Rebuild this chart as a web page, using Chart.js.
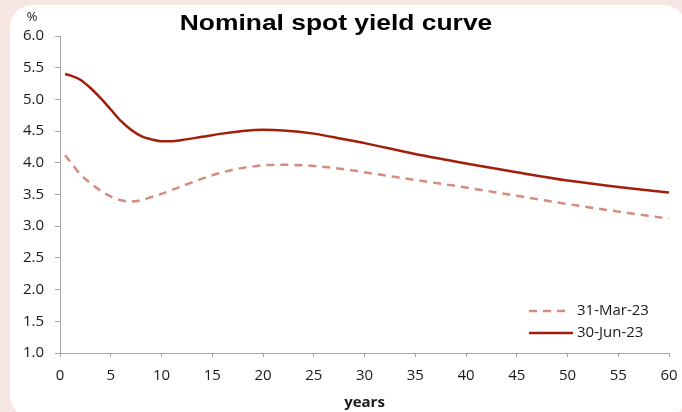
<!DOCTYPE html>
<html>
<head>
<meta charset="utf-8">
<script src="https://cdn.jsdelivr.net/npm/chart.js@4"></script>
<style>
  html, body { margin: 0; padding: 0; }
  body { width: 682px; height: 412px; background: #f6e7e5; overflow: hidden; position: relative; }
  .panel { position: absolute; left: 10px; top: 5px; width: 676px; height: 412px; background: #fff; border-radius: 22px; }
  .box { position: absolute; left: 0; top: 0; width: 682px; height: 412px; }
</style>
</head>
<body>
<div class="panel"></div>
<div class="box"><canvas id="chart" width="682" height="412"></canvas></div>
<script>
// maturities in years
const years = [0.5, 1, 2, 3, 4, 5, 6, 7, 8, 9, 10, 11, 12, 14, 16, 18, 20, 22, 25, 28, 30, 35, 40, 45, 50, 55, 60];
// 31-Mar-23 curve (%)
const mar23 = [4.12, 4.02, 3.82, 3.68, 3.56, 3.47, 3.41, 3.39, 3.41, 3.46, 3.51, 3.57, 3.63, 3.75, 3.85, 3.92, 3.96, 3.97, 3.95, 3.90, 3.85, 3.73, 3.61, 3.48, 3.35, 3.23, 3.12];
// 30-Jun-23 curve (%)
const jun23 = [5.40, 5.38, 5.31, 5.18, 5.02, 4.84, 4.66, 4.52, 4.42, 4.37, 4.34, 4.34, 4.36, 4.41, 4.46, 4.50, 4.52, 4.51, 4.46, 4.37, 4.31, 4.14, 3.99, 3.85, 3.72, 3.62, 3.53];
const seriesLabels = ["31-Mar-23", "30-Jun-23"];

const FONT = "'Open Sans', 'DejaVu Sans', sans-serif";
const textColor = "#1a1a1a";
const axisColor = "#a6a6a6";

const toPoints = (vals) => vals.map((v, i) => ({ x: years[i], y: v }));

// title, % label and the in-chart legend
const decor = {
  id: "decor",
  afterDraw(chart) {
    const { ctx } = chart;
    ctx.save();
    ctx.fillStyle = "#000";
    ctx.font = "bold 22px 'Liberation Sans', Arial, sans-serif";
    ctx.textAlign = "center";
    ctx.textBaseline = "middle";
    // title looks horizontally stretched in the original
    ctx.save();
    ctx.translate(336, 24);
    ctx.scale(1.2, 1);
    ctx.fillText("Nominal spot yield curve", 0, 0);
    ctx.restore();

    ctx.font = "13px " + FONT;
    ctx.fillStyle = textColor;
    ctx.fillText("%", 32, 17);

    // legend
    ctx.font = "15px " + FONT;
    ctx.textAlign = "left";
    chart.data.datasets.forEach((ds, i) => {
      const y = 311 + i * 22;
      ctx.strokeStyle = ds.borderColor;
      ctx.lineWidth = ds.borderWidth;
      ctx.setLineDash(ds.borderDash || []);
      ctx.beginPath();
      ctx.moveTo(529, y);
      ctx.lineTo(ds.borderDash ? 566 : 573, y);
      ctx.stroke();
      ctx.setLineDash([]);
      ctx.fillStyle = textColor;
      ctx.fillText(ds.label, 577, y);
    });
    ctx.restore();
  },
};

new Chart(document.getElementById("chart"), {
  type: "line",
  data: {
    datasets: [
      {
        label: seriesLabels[0],
        data: toPoints(mar23),
        borderColor: "#d58b7e",
        borderWidth: 2.5,
        borderDash: [8, 6],
        pointRadius: 0,
        cubicInterpolationMode: "monotone",
      },
      {
        label: seriesLabels[1],
        data: toPoints(jun23),
        borderColor: "#a31d0b",
        borderWidth: 2.5,
        pointRadius: 0,
        cubicInterpolationMode: "monotone",
      },
    ],
  },
  options: {
    responsive: false,
    animation: false,
    devicePixelRatio: 1,
    layout: { padding: { top: 36, right: 13, left: 0, bottom: 0 } },
    plugins: {
      legend: { display: false },
      tooltip: { enabled: false },
    },
    scales: {
      x: {
        type: "linear",
        min: 0,
        max: 60,
        ticks: { stepSize: 5, maxRotation: 0, color: textColor, font: { family: FONT, size: 15 }, padding: 10 },
        grid: { drawOnChartArea: false, color: axisColor, tickLength: 4 },
        border: { color: axisColor },
        title: { display: true, text: "years", color: textColor, font: { family: FONT, size: 15, weight: "bold" }, padding: { top: 0, bottom: 0 } },
        afterFit: (s) => { s.height = 59; s.paddingRight = 0; s.paddingLeft = 0; },
      },
      y: {
        min: 1,
        max: 6,
        ticks: { stepSize: 0.5, color: textColor, font: { family: FONT, size: 15 }, padding: 11, callback: (v) => v.toFixed(1) },
        grid: { drawOnChartArea: false, color: axisColor, tickLength: 5 },
        border: { color: axisColor },
        afterFit: (s) => { s.width = 60; },
      },
    },
  },
  plugins: [decor],
});
</script>
</body>
</html>
